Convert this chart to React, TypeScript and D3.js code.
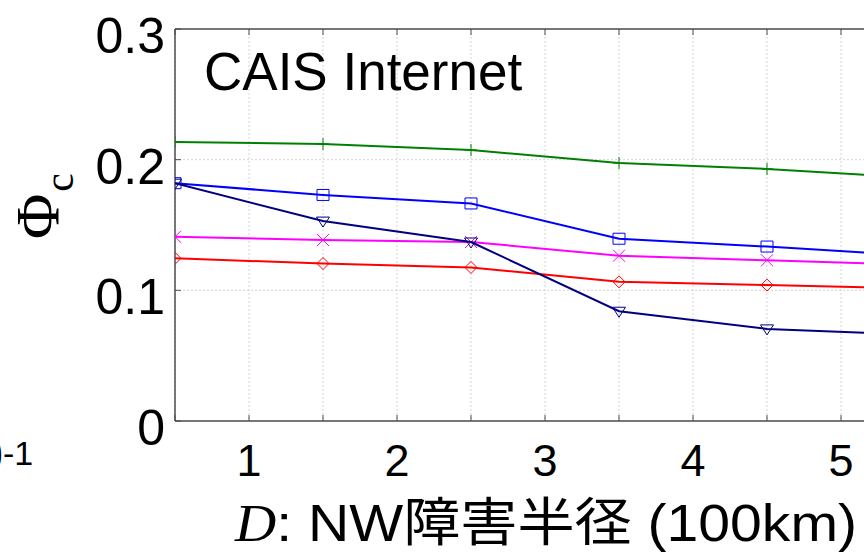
import React from 'react';
import * as d3 from 'd3';

const radii = [0.5, 1.5, 2.5, 3.5, 4.5, 5.5];

const greenPlus = [0.2135, 0.212, 0.2074, 0.1974, 0.1929, 0.186];
const blueSquare = [0.182, 0.173, 0.1665, 0.1395, 0.1335, 0.1265];
const magentaX = [0.141, 0.1385, 0.137, 0.1265, 0.123, 0.1195];
const redDiamond = [0.1245, 0.1205, 0.1175, 0.1065, 0.104, 0.1015];
const navyTriangle = [0.182, 0.153, 0.137, 0.084, 0.0705, 0.066];

const series = [
  { name: 'green', color: '#008000', marker: 'plus', values: greenPlus },
  { name: 'blue', color: '#0000ff', marker: 'square', values: blueSquare },
  { name: 'magenta', color: '#ff00ff', marker: 'x', values: magentaX },
  { name: 'red', color: '#ff0000', marker: 'diamond', values: redDiamond },
  { name: 'navy', color: '#000080', marker: 'triangle', values: navyTriangle },
];

const xTicks = [0.5, 1, 1.5, 2, 2.5, 3, 3.5, 4, 4.5, 5, 5.5];
const xLabels = [1, 2, 3, 4, 5];
const yTicks = [0, 0.1, 0.2, 0.3];

function markerPath(type: string, cx: number, cy: number) {
  const r = 6;
  switch (type) {
    case 'plus':
      return `M${cx - r},${cy}H${cx + r}M${cx},${cy - r}V${cy + r}`;
    case 'x':
      return `M${cx - r},${cy - r}L${cx + r},${cy + r}M${cx - r},${cy + r}L${cx + r},${cy - r}`;
    case 'square':
      return `M${cx - r},${cy - 5.5}H${cx + r}V${cy + 5.5}H${cx - r}Z`;
    case 'diamond':
      return `M${cx},${cy - r}L${cx + r},${cy}L${cx},${cy + r}L${cx - r},${cy}Z`;
    case 'triangle':
      return `M${cx - 6.5},${cy - 4}H${cx + 6.5}L${cx},${cy + 6}Z`;
    default:
      return '';
  }
}

export default function App() {
  const left = 175;
  const top = 29;
  const bottom = 421;
  const x = d3.scaleLinear().domain([0.5, 5.5]).range([left, 915]);
  const y = d3.scaleLinear().domain([0, 0.3]).range([bottom, top]);

  const line = d3
    .line<number>()
    .x((d, i) => x(radii[i]))
    .y((d) => y(d));

  const axisColor = '#4d4d4d';

  return (
    <svg
      width={864}
      height={558}
      style={{ position: 'absolute', left: 0, top: 0, background: '#fff' }}
      fontFamily="'Liberation Sans', Arial, sans-serif"
    >
      <defs>
        <clipPath id="plot">
          <rect x={left} y={top} width={915 - left} height={bottom - top} />
        </clipPath>
      </defs>
      <rect x={0} y={0} width={864} height={558} fill="#fff" />

      {/* grid */}
      {xTicks.map((t) => (
        <line
          key={'gx' + t}
          x1={x(t)}
          x2={x(t)}
          y1={top}
          y2={bottom}
          stroke="#d4d4d4"
          strokeWidth={1}
          strokeDasharray="2,2"
        />
      ))}
      {yTicks.map((t) => (
        <line
          key={'gy' + t}
          x1={left}
          x2={915}
          y1={y(t)}
          y2={y(t)}
          stroke="#d4d4d4"
          strokeWidth={1}
          strokeDasharray="2,2"
        />
      ))}

      {/* axes box */}
      <line x1={left} x2={left} y1={top} y2={bottom} stroke={axisColor} strokeWidth={1.5} />
      <line x1={left} x2={915} y1={top} y2={top} stroke={axisColor} strokeWidth={1.5} />
      <line x1={left} x2={915} y1={bottom} y2={bottom} stroke={axisColor} strokeWidth={1.5} />
      {xTicks.map((t) => (
        <g key={'tx' + t}>
          <line x1={x(t)} x2={x(t)} y1={top} y2={top + 6} stroke={axisColor} />
          <line x1={x(t)} x2={x(t)} y1={bottom} y2={bottom - 6} stroke={axisColor} />
        </g>
      ))}
      {yTicks.map((t) => (
        <line key={'ty' + t} x1={left} x2={left + 6} y1={y(t)} y2={y(t)} stroke={axisColor} />
      ))}

      {/* tick labels */}
      {yTicks.map((t) => (
        <text key={'ly' + t} x={165} y={y(t) + 24} fontSize={50} textAnchor="end" fill="#000">
          {t === 0 ? '0' : t.toFixed(1)}
        </text>
      ))}
      {xLabels.map((t) => (
        <text key={'lx' + t} x={x(t)} y={476} fontSize={45} textAnchor="middle" fill="#000">
          {t}
        </text>
      ))}

      {/* series */}
      <g clipPath="url(#plot)">
        {series.map((s) => (
          <g key={s.name}>
            <path d={line(s.values) || ''} fill="none" stroke={s.color} strokeWidth={2} />
            {s.values.map((v, i) => (
              <path
                key={i}
                d={markerPath(s.marker, x(radii[i]), y(v))}
                fill="none"
                stroke={s.color}
                strokeWidth={1}
              />
            ))}
          </g>
        ))}
      </g>

      {/* title inside plot */}
      <text x={204} y={90} fontSize={53} fill="#000">
        CAIS Internet
      </text>

      {/* y label */}
      <text
        transform="translate(58,239) rotate(-90)"
        fontFamily="'Liberation Serif', 'Times New Roman', serif"
        fontSize={62}
        fill="#000"
      >
        Φ
        <tspan fontSize={42} dy={15} dx={2}>
          c
        </tspan>
      </text>

      {/* x label */}
      <text x={235} y={541} fontSize={52} fill="#000" textLength={622} lengthAdjust="spacingAndGlyphs">
        <tspan fontFamily="'Liberation Serif', 'DejaVu Serif', serif" fontStyle="italic">
          D
        </tspan>
        <tspan>: NW</tspan>
        <tspan fontFamily="'Noto Sans CJK JP', sans-serif">障害半径</tspan>
        <tspan> (100km)</tspan>
      </text>

      {/* fragment of neighbouring axis label */}
      <text x={3} y={472} fontSize={48} textAnchor="end" fill="#000">
        10
      </text>
      <text x={3} y={465} fontSize={34} fill="#000">
        -1
      </text>
    </svg>
  );
}
